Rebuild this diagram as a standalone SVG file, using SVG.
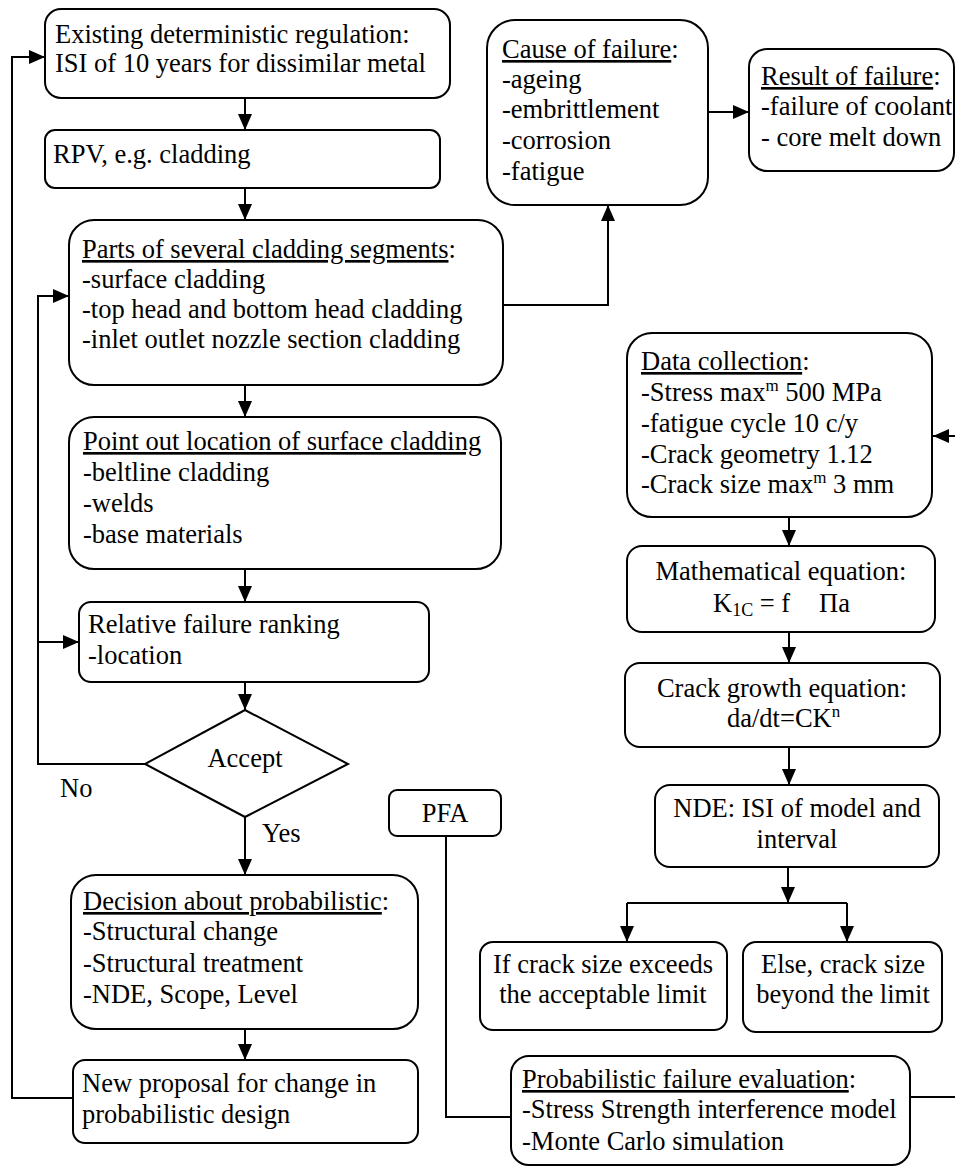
<svg xmlns="http://www.w3.org/2000/svg" width="955" height="1168" viewBox="0 0 955 1168" font-family="'Liberation Serif', 'DejaVu Serif', serif">
<style>
text{font-family:'Liberation Serif','Times New Roman','DejaVu Serif',serif;font-size:26.5px;fill:#000}
.c{text-anchor:middle}
.u{text-decoration:underline}
.sup{font-size:17px}
.box{fill:#fff;stroke:#000;stroke-width:2}
.ln{fill:none;stroke:#000;stroke-width:2}
</style>
<defs>
<marker id="ah" markerUnits="userSpaceOnUse" markerWidth="16" markerHeight="14" refX="16" refY="7" orient="auto">
<path d="M0,0 L16,7 L0,14 z" fill="#000"/>
</marker>
</defs>
<rect width="955" height="1168" fill="#fff"/>
<g id="connectors">
<path class="ln" d="M245,98 V130" marker-end="url(#ah)"/>
<path class="ln" d="M245,188 V220" marker-end="url(#ah)"/>
<path class="ln" d="M503,305 H608 V205" marker-end="url(#ah)"/>
<path class="ln" d="M708,112 H749" marker-end="url(#ah)"/>
<path class="ln" d="M245,385 V417" marker-end="url(#ah)"/>
<path class="ln" d="M245,569 V602" marker-end="url(#ah)"/>
<path class="ln" d="M245,682 V710" marker-end="url(#ah)"/>
<path class="ln" d="M245,817 V875" marker-end="url(#ah)"/>
<path class="ln" d="M245,1029 V1060" marker-end="url(#ah)"/>
<path class="ln" d="M145,764 H38 V296 H69" marker-end="url(#ah)"/>
<path class="ln" d="M38,642 H79" marker-end="url(#ah)"/>
<path class="ln" d="M73,1098 H12 V57 H45" marker-end="url(#ah)"/>
<path class="ln" d="M955,436 H933" marker-end="url(#ah)"/>
<path class="ln" d="M789,517 V546" marker-end="url(#ah)"/>
<path class="ln" d="M789,632 V663" marker-end="url(#ah)"/>
<path class="ln" d="M789,747 V785" marker-end="url(#ah)"/>
<path class="ln" d="M788,867 V903" marker-end="url(#ah)"/>
<path class="ln" d="M627,903 H847"/>
<path class="ln" d="M627,903 V942" marker-end="url(#ah)"/>
<path class="ln" d="M847,903 V942" marker-end="url(#ah)"/>
<path class="ln" d="M446,836 V1117 H511"/>
<path class="ln" d="M910,1097 H955"/>
</g>
<g id="existing">
<rect class="box" x="45" y="9" width="405" height="89" rx="16"/>
<text x="55" y="43">Existing deterministic regulation:</text>
<text x="55" y="72">ISI of 10 years for dissimilar metal</text>
</g>
<g id="rpv">
<rect class="box" x="45" y="130" width="395" height="58" rx="10"/>
<text x="53" y="163">RPV, e.g. cladding</text>
</g>
<g id="parts">
<rect class="box" x="69" y="220" width="434" height="165" rx="25"/>
<text x="82" y="258"><tspan class="u">Parts of several cladding segments</tspan>:</text>
<text x="82" y="288">-surface cladding</text>
<text x="82" y="318">-top head and bottom head cladding</text>
<text x="82" y="348">-inlet outlet nozzle section cladding</text>
</g>
<g id="cause">
<rect class="box" x="487" y="20" width="221" height="185" rx="28"/>
<text x="502" y="58"><tspan class="u">Cause of failure</tspan>:</text>
<text x="502" y="88">-ageing</text>
<text x="502" y="118">-embrittlement</text>
<text x="502" y="149">-corrosion</text>
<text x="502" y="180">-fatigue</text>
</g>
<g id="result">
<rect class="box" x="749" y="49" width="205" height="122" rx="18"/>
<text x="761" y="85"><tspan class="u">Result of failure</tspan>:</text>
<text x="761" y="115">-failure of coolant</text>
<text x="761" y="146">- core melt down</text>
</g>
<g id="location">
<rect class="box" x="69" y="417" width="432" height="152" rx="25"/>
<text x="83" y="450"><tspan class="u">Point out location of surface cladding</tspan></text>
<text x="83" y="481">-beltline cladding</text>
<text x="83" y="512">-welds</text>
<text x="83" y="543">-base materials</text>
</g>
<g id="ranking">
<rect class="box" x="79" y="602" width="350" height="80" rx="12"/>
<text x="88" y="633">Relative failure ranking</text>
<text x="88" y="664">-location</text>
</g>
<g id="accept">
<path class="box" d="M245,710 L348,764 L245,817 L145,764 Z"/>
<text class="c" x="245" y="767">Accept</text>
<text x="60" y="797">No</text>
<text x="262" y="842">Yes</text>
</g>
<g id="decision">
<rect class="box" x="71" y="875" width="347" height="154" rx="25"/>
<text x="83" y="910"><tspan class="u">Decision about probabilistic</tspan>:</text>
<text x="83" y="940">-Structural change</text>
<text x="83" y="972">-Structural treatment</text>
<text x="83" y="1003">-NDE, Scope, Level</text>
</g>
<g id="proposal">
<rect class="box" x="73" y="1060" width="345" height="83" rx="12"/>
<text x="82" y="1092">New proposal for change in</text>
<text x="82" y="1123">probabilistic design</text>
</g>
<g id="data">
<rect class="box" x="627" y="333" width="305" height="184" rx="25"/>
<text x="641" y="370"><tspan class="u">Data collection</tspan>:</text>
<text x="641" y="401">-Stress max<tspan class="sup" dy="-10">m</tspan><tspan dy="10"> 500 MPa</tspan></text>
<text x="641" y="432">-fatigue cycle 10 c/y</text>
<text x="641" y="463">-Crack geometry 1.12</text>
<text x="641" y="493">-Crack size max<tspan class="sup" dy="-10">m</tspan><tspan dy="10"> 3 mm</tspan></text>
</g>
<g id="math">
<rect class="box" x="627" y="546" width="308" height="86" rx="15"/>
<text class="c" x="781" y="580">Mathematical equation:</text>
<text x="713" y="612">K<tspan font-size="18" dy="4">1C</tspan><tspan dy="-4"> = f</tspan><tspan x="819">Πa</tspan></text>
</g>
<g id="growth">
<rect class="box" x="625" y="663" width="315" height="84" rx="15"/>
<text class="c" x="782" y="697">Crack growth equation:</text>
<text x="727" y="727">da/dt=CK<tspan class="sup" dy="-10">n</tspan></text>
</g>
<g id="nde">
<rect class="box" x="655" y="785" width="284" height="82" rx="15"/>
<text class="c" x="797" y="817">NDE: ISI of model and</text>
<text class="c" x="797" y="848">interval</text>
</g>
<g id="exceeds">
<rect class="box" x="480" y="942" width="247" height="88" rx="13"/>
<text class="c" x="603" y="973">If crack size exceeds</text>
<text class="c" x="603" y="1003">the acceptable limit</text>
</g>
<g id="beyond">
<rect class="box" x="743" y="942" width="199" height="90" rx="13"/>
<text class="c" x="843" y="973">Else, crack size</text>
<text class="c" x="843" y="1003">beyond the limit</text>
</g>
<g id="pfa">
<rect class="box" x="389" y="790" width="112" height="46" rx="8"/>
<text class="c" x="445" y="822">PFA</text>
</g>
<g id="pfe">
<rect class="box" x="511" y="1056" width="399" height="109" rx="18"/>
<text x="522" y="1088"><tspan class="u">Probabilistic failure evaluation</tspan>:</text>
<text x="522" y="1118">-Stress Strength interference model</text>
<text x="522" y="1150">-Monte Carlo simulation</text>
</g>
</svg>
